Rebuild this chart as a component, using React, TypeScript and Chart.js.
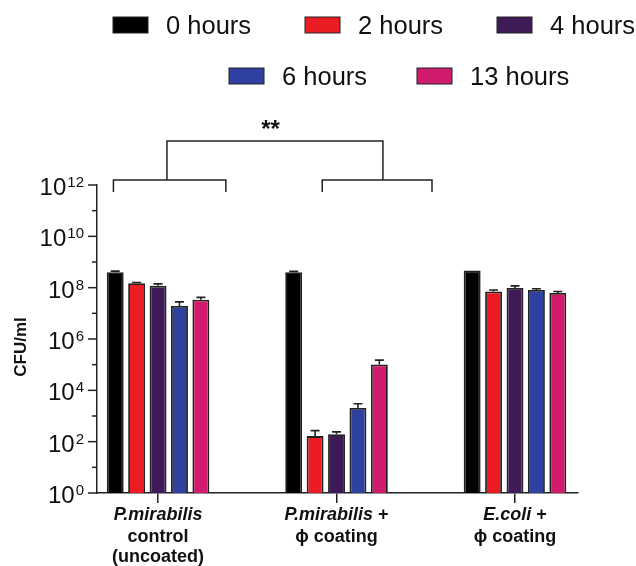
import React, { useEffect, useRef } from 'react';
import { Chart, registerables } from 'chart.js';

Chart.register(...registerables);

// ---- data ----
const categoryNames = ['P.mirabilis', 'P.mirabilis', 'E.coli'];
const categorySuffix = ['', ' +', ' +'];
const categorySubLines = [['control', '(uncoated)'], ['ϕ coating'], ['ϕ coating']];

const seriesLabels = ['0 hours', '2 hours', '4 hours', '6 hours', '13 hours'];

const hours0 = [4.0e8, 4.0e8, 4.7e8];
const hours2 = [1.5e8, 165, 7.1e7];
const hours4 = [1.2e8, 195, 9.8e7];
const hours6 = [1.95e7, 2050, 8.1e7];
const hours13 = [3.4e7, 1.02e5, 6.2e7];

const err0 = [4e7, 3e7, 0];
const err2 = [1e7, 105, 1e7];
const err4 = [2e7, 45, 1.9e7];
const err6 = [8.5e6, 950, 1e7];
const err13 = [8e6, 4.8e4, 9e6];

const yTickExponents = [0, 1, 2, 3, 4, 5, 6, 7, 8, 9, 10, 11, 12];
const yTitle = 'CFU/ml';
const significanceLabel = '**';

// ---- styles ----
const seriesColors = ['#000000', '#ec1c24', '#3e1a56', '#2f41a0', '#d11b6d'];
const edge = '#222222';
const FONT = '"Liberation Sans", Arial, Helvetica, sans-serif';

const seriesValues = [hours0, hours2, hours4, hours6, hours13];
const seriesErrors = [err0, err2, err4, err6, err13];

const legendSlots = [
  { x: 113, y: 17 },
  { x: 305, y: 17 },
  { x: 497, y: 17 },
  { x: 229, y: 68 },
  { x: 417, y: 68 },
];

const overlayPlugin = {
  id: 'overlay',
  afterDatasetsDraw(chart: any) {
    const ctx = chart.ctx;
    const yScale = chart.scales.y;
    ctx.save();
    ctx.strokeStyle = edge;
    ctx.lineWidth = 1.6;
    chart.data.datasets.forEach((ds: any, di: number) => {
      const meta = chart.getDatasetMeta(di);
      meta.data.forEach((bar: any, i: number) => {
        const e = seriesErrors[di][i];
        if (!e) return;
        const top = yScale.getPixelForValue(seriesValues[di][i] + e);
        ctx.beginPath();
        ctx.moveTo(bar.x, bar.y);
        ctx.lineTo(bar.x, top);
        ctx.moveTo(bar.x - 4.5, top);
        ctx.lineTo(bar.x + 4.5, top);
        ctx.stroke();
      });
    });
    ctx.restore();
  },
  afterDraw(chart: any) {
    const ctx = chart.ctx;
    const xScale = chart.scales.x;
    const yScale = chart.scales.y;
    const area = chart.chartArea;
    ctx.save();

    // y ticks and labels
    ctx.strokeStyle = edge;
    ctx.lineWidth = 1.5;
    ctx.fillStyle = '#111';
    yTickExponents.forEach((e) => {
      const py = yScale.getPixelForValue(Math.pow(10, e));
      const major = e % 2 === 0;
      ctx.beginPath();
      ctx.moveTo(area.left - (major ? 9 : 5), py);
      ctx.lineTo(area.left, py);
      ctx.stroke();
      if (major) {
        ctx.textAlign = 'right';
        ctx.textBaseline = 'alphabetic';
        ctx.font = `15px ${FONT}`;
        const expText = String(e);
        const expW = ctx.measureText(expText).width;
        const right = area.left - 13;
        ctx.fillText(expText, right, py + 2);
        ctx.font = `24px ${FONT}`;
        ctx.fillText('10', right - expW - 1, py + 10);
      }
    });

    // y title
    ctx.save();
    ctx.translate(21, (area.top + area.bottom) / 2 + 8);
    ctx.rotate(-Math.PI / 2);
    ctx.font = `bold 17px ${FONT}`;
    ctx.textAlign = 'center';
    ctx.textBaseline = 'middle';
    ctx.fillStyle = '#111';
    ctx.fillText(yTitle, 0, 0);
    ctx.restore();

    // x labels
    ctx.fillStyle = '#111';
    ctx.textBaseline = 'alphabetic';
    categoryNames.forEach((name, i) => {
      const cx = xScale.getPixelForValue(i);
      const baseY = area.bottom + 27;
      ctx.font = `italic bold 18px ${FONT}`;
      const w1 = ctx.measureText(name).width;
      ctx.font = `bold 18px ${FONT}`;
      const w2 = ctx.measureText(categorySuffix[i]).width;
      const startX = cx - (w1 + w2) / 2;
      ctx.textAlign = 'left';
      ctx.font = `italic bold 18px ${FONT}`;
      ctx.fillText(name, startX, baseY);
      ctx.font = `bold 18px ${FONT}`;
      ctx.fillText(categorySuffix[i], startX + w1, baseY);
      ctx.textAlign = 'center';
      categorySubLines[i].forEach((line, li) => {
        ctx.fillText(line, cx, baseY + 22 + li * 20);
      });
    });

    // significance bracket
    ctx.strokeStyle = '#222';
    ctx.lineWidth = 1.5;
    const lowY = area.top - 5;
    const dropY = area.top + 7;
    const topY = area.top - 44;
    const px = (v: number) => xScale.getPixelForValue(v);
    ctx.beginPath();
    ctx.moveTo(px(-0.25), dropY);
    ctx.lineTo(px(-0.25), lowY);
    ctx.lineTo(px(0.38), lowY);
    ctx.lineTo(px(0.38), dropY);
    ctx.moveTo(px(0.92), dropY);
    ctx.lineTo(px(0.92), lowY);
    ctx.lineTo(px(1.535), lowY);
    ctx.lineTo(px(1.535), dropY);
    ctx.moveTo(px(0.05), lowY);
    ctx.lineTo(px(0.05), topY);
    ctx.lineTo(px(1.26), topY);
    ctx.lineTo(px(1.26), lowY);
    ctx.stroke();
    ctx.font = `bold 24px ${FONT}`;
    ctx.textAlign = 'center';
    ctx.textBaseline = 'alphabetic';
    ctx.fillStyle = '#111';
    ctx.fillText(significanceLabel, px(0.63), topY - 4);

    // legend
    seriesLabels.forEach((label, i) => {
      const s = legendSlots[i];
      ctx.fillStyle = seriesColors[i];
      ctx.fillRect(s.x, s.y, 35, 16);
      ctx.strokeStyle = edge;
      ctx.lineWidth = 1;
      ctx.strokeRect(s.x, s.y, 35, 16);
      ctx.fillStyle = '#111';
      ctx.font = `25.5px ${FONT}`;
      ctx.textAlign = 'left';
      ctx.textBaseline = 'alphabetic';
      ctx.fillText(label, s.x + 53, s.y + 17);
    });

    ctx.restore();
  },
};

export default function App() {
  const canvasRef = useRef<HTMLCanvasElement | null>(null);

  useEffect(() => {
    if (!canvasRef.current) return;
    const chart = new Chart(canvasRef.current, {
      type: 'bar',
      data: {
        datasets: seriesLabels.map((label, di) => ({
          label,
          data: seriesValues[di].map((v, i) => ({ x: i, y: v })),
          backgroundColor: seriesColors[di],
          borderColor: edge,
          borderWidth: 1.8,
          borderSkipped: 'bottom',
          categoryPercentage: 0.6,
          barPercentage: 0.79,
        })),
      },
      options: {
        animation: false,
        responsive: true,
        maintainAspectRatio: false,
        layout: { padding: { left: 97, right: 58, top: 185, bottom: 63 } },
        plugins: { legend: { display: false }, tooltip: { enabled: false } },
        scales: {
          x: {
            type: 'linear',
            offset: false,
            min: -0.342,
            max: 2.353,
            afterBuildTicks: (scale: any) => {
              scale.ticks = categoryNames.map((_, i) => ({ value: i }));
            },
            ticks: { display: false },
            grid: {
              display: true,
              offset: false,
              drawOnChartArea: false,
              drawTicks: true,
              tickLength: 10,
              color: edge,
              lineWidth: 1.5,
            },
            border: { display: true, color: edge, width: 1.5 },
          },
          y: {
            type: 'logarithmic',
            min: 1,
            max: 1e12,
            afterBuildTicks: (scale: any) => {
              scale.ticks = yTickExponents.map((e) => ({ value: Math.pow(10, e) }));
            },
            ticks: { display: false },
            grid: { display: false, drawTicks: false, tickLength: 0 },
            border: { display: true, color: edge, width: 1.5 },
          },
        },
      },
      plugins: [overlayPlugin],
    } as any);
    return () => chart.destroy();
  }, []);

  return (
    <div style={{ position: 'fixed', left: 0, top: 0, width: 636, height: 566, background: '#fff' }}>
      <canvas ref={canvasRef} />
    </div>
  );
}
